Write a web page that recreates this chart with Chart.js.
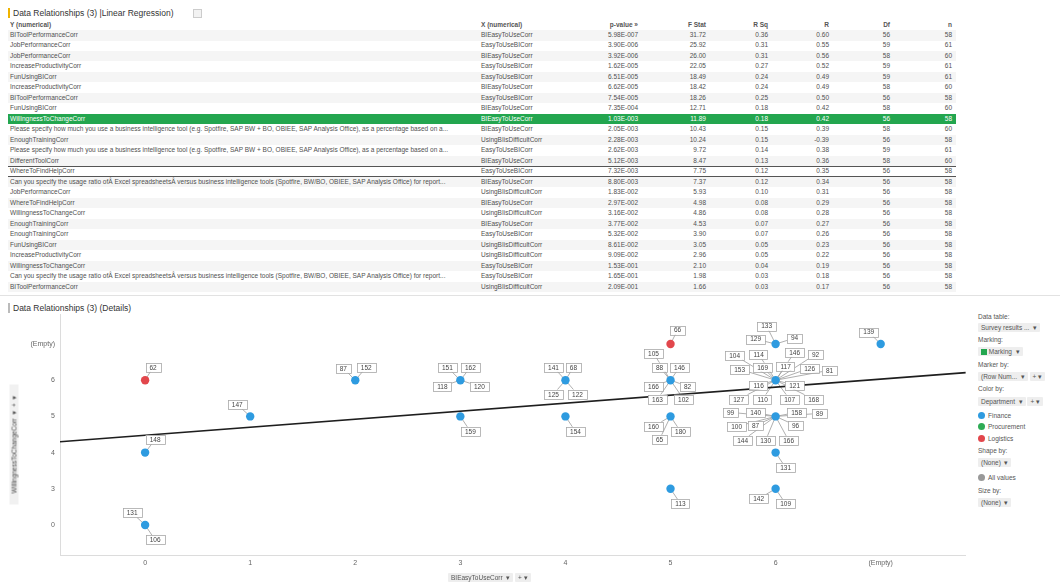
<!DOCTYPE html>
<html>
<head>
<meta charset="utf-8">
<script src="https://cdn.jsdelivr.net/npm/chart.js@4"></script>
<style>
  body { margin: 0; width: 1060px; height: 585px; overflow: hidden; background: #fff; font-family: "Liberation Sans", Arial, sans-serif; color: #444; position: relative; }
  .abs { position: absolute; white-space: nowrap; }
  .title { font-size: 8.5px; color: #333; }
  .bar { position: absolute; width: 2px; height: 10px; }
  #table { position: absolute; left: 0; top: 19px; width: 960px; height: 273px; overflow: hidden; }
  .row { position: absolute; left: 8px; width: 948px; height: 10.5px; font-size: 6.5px; line-height: 10.5px; box-sizing: border-box; color: #505050; }
  .row span { position: absolute; top: 0; }
  .hdr { font-weight: bold; color: #555; }
  .sel { background: #23a64f; color: #fff; }
  .framed { border-top: 1px solid #555; border-bottom: 1px solid #555; line-height: 8.5px; }
  .stripe { background: #f5f5f5; }
  #chartBox { position: absolute; left: 0; top: 298px; width: 970px; height: 287px; }
  .side { position: absolute; left: 978px; font-size: 6.5px; color: #555; white-space: nowrap; }
  .dd { background: #eeeeee; padding: 1px 3px; border-radius: 1px; }
  .dot { display: inline-block; width: 7px; height: 7px; border-radius: 50%; vertical-align: -1px; margin-right: 3px; }
</style>
</head>
<body>

<div class="bar" style="left:8px;top:8px;background:#f0b400"></div>
<div class="abs title" style="left:13px;top:8px">Data Relationships (3) |Linear Regression)</div>
<div class="abs" style="left:193px;top:9px;width:7px;height:7px;border:1px solid #ccc;background:#f2f2f2"></div>
<div id="table"></div>
<div class="abs" style="left:0;top:295px;width:1060px;height:1px;background:#e2e2e2"></div>

<div class="bar" style="left:8px;top:303px;background:#bbb"></div>
<div class="abs title" style="left:13px;top:303px">Data Relationships (3) (Details)</div>

<div id="chartBox"><canvas id="scatter"></canvas></div>

<div class="abs" style="left:-46px;top:440px;width:120px;height:9px;transform:rotate(-90deg);font-size:6.5px;line-height:9px;color:#444;background:#f1f1f1;text-align:center">WillingnessToChangeCorr &nbsp;▾ &nbsp;+ &nbsp;▾</div>
<div class="abs" style="left:448px;top:573px;font-size:6.5px;line-height:9px;color:#555"><span class="dd">BIEasyToUseCorr &nbsp;▾</span> <span class="dd">+ ▾</span></div>

<div class="side" style="top:313px">Data table:</div>
<div class="side" style="top:324px"><span class="dd">Survey results ... &nbsp;▾</span></div>
<div class="side" style="top:336px">Marking:</div>
<div class="side" style="top:348px"><span class="dd"><span style="display:inline-block;width:6px;height:6px;background:#23a64f;vertical-align:-1px"></span> Marking &nbsp;▾</span></div>
<div class="side" style="top:361px">Marker by:</div>
<div class="side" style="top:373px"><span class="dd">(Row Num... &nbsp;▾</span> <span class="dd">+ ▾</span></div>
<div class="side" style="top:385px">Color by:</div>
<div class="side" style="top:398px"><span class="dd">Department &nbsp;▾</span> <span class="dd">+ ▾</span></div>
<div class="side" style="top:412px"><span class="dot" style="background:#2e9be0"></span>Finance</div>
<div class="side" style="top:423px"><span class="dot" style="background:#2eab55"></span>Procurement</div>
<div class="side" style="top:435px"><span class="dot" style="background:#e2474c"></span>Logistics</div>
<div class="side" style="top:447px">Shape by:</div>
<div class="side" style="top:459px"><span class="dd">(None) &nbsp;▾</span></div>
<div class="side" style="top:474px"><span class="dot" style="background:#999"></span>All values</div>
<div class="side" style="top:487px">Size by:</div>
<div class="side" style="top:499px"><span class="dd">(None) &nbsp;▾</span></div>

<script>
// 回归结果表格
const yNames = ['BIToolPerformanceCorr', 'JobPerformanceCorr', 'JobPerformanceCorr', 'IncreaseProductivityCorr', 'FunUsingBICorr',
  'IncreaseProductivityCorr', 'BIToolPerformanceCorr', 'FunUsingBICorr', 'WillingnessToChangeCorr',
  'Please specify how much you use a business intelligence tool (e.g. Spotfire, SAP BW + BO, OBIEE, SAP Analysis Office), as a percentage based on a...',
  'EnoughTrainingCorr',
  'Please specify how much you use a business intelligence tool (e.g. Spotfire, SAP BW + BO, OBIEE, SAP Analysis Office), as a percentage based on a...',
  'DifferentToolCorr', 'WhereToFindHelpCorr',
  'Can you specify the usage ratio ofÂ Excel spreadsheetsÂ versus business intelligence tools (Spotfire, BW/BO, OBIEE, SAP Analysis Office) for report...',
  'JobPerformanceCorr', 'WhereToFindHelpCorr', 'WillingnessToChangeCorr', 'EnoughTrainingCorr', 'EnoughTrainingCorr',
  'FunUsingBICorr', 'IncreaseProductivityCorr', 'WillingnessToChangeCorr',
  'Can you specify the usage ratio ofÂ Excel spreadsheetsÂ versus business intelligence tools (Spotfire, BW/BO, OBIEE, SAP Analysis Office) for report...',
  'BIToolPerformanceCorr'];
const xNames = ['BIEasyToUseCorr', 'EasyToUseBICorr', 'BIEasyToUseCorr', 'EasyToUseBICorr', 'EasyToUseBICorr',
  'BIEasyToUseCorr', 'EasyToUseBICorr', 'BIEasyToUseCorr', 'BIEasyToUseCorr', 'BIEasyToUseCorr',
  'UsingBIisDifficultCorr', 'EasyToUseBICorr', 'BIEasyToUseCorr', 'EasyToUseBICorr', 'BIEasyToUseCorr',
  'UsingBIisDifficultCorr', 'BIEasyToUseCorr', 'UsingBIisDifficultCorr', 'BIEasyToUseCorr', 'EasyToUseBICorr',
  'UsingBIisDifficultCorr', 'UsingBIisDifficultCorr', 'EasyToUseBICorr', 'EasyToUseBICorr', 'UsingBIisDifficultCorr'];
const pValues = ['5.98E-007', '3.90E-006', '3.92E-006', '1.62E-005', '6.51E-005', '6.62E-005', '7.54E-005', '7.35E-004',
  '1.03E-003', '2.05E-003', '2.28E-003', '2.62E-003', '5.12E-003', '7.32E-003', '8.80E-003', '1.83E-002', '2.97E-002',
  '3.16E-002', '3.77E-002', '5.32E-002', '8.61E-002', '9.09E-002', '1.53E-001', '1.65E-001', '2.09E-001'];
const fStats = ['31.72', '25.92', '26.00', '22.05', '18.49', '18.42', '18.26', '12.71', '11.89', '10.43', '10.24', '9.72',
  '8.47', '7.75', '7.37', '5.93', '4.98', '4.86', '4.53', '3.90', '3.05', '2.96', '2.10', '1.98', '1.66'];
const rSqs = ['0.36', '0.31', '0.31', '0.27', '0.24', '0.24', '0.25', '0.18', '0.18', '0.15', '0.15', '0.14', '0.13', '0.12',
  '0.12', '0.10', '0.08', '0.08', '0.07', '0.07', '0.05', '0.05', '0.04', '0.03', '0.03'];
const rValues = ['0.60', '0.55', '0.56', '0.52', '0.49', '0.49', '0.50', '0.42', '0.42', '0.39', '-0.39', '0.38', '0.36',
  '0.35', '0.34', '0.31', '0.29', '0.28', '0.27', '0.26', '0.23', '0.22', '0.19', '0.18', '0.17'];
const dfs = ['56', '59', '58', '59', '59', '58', '56', '58', '56', '58', '56', '59', '58', '56', '56', '56', '56', '56', '56',
  '56', '56', '56', '56', '56', '56'];
const ns = ['58', '61', '60', '61', '61', '60', '58', '60', '58', '60', '58', '61', '60', '58', '58', '58', '58', '58', '58',
  '58', '58', '58', '58', '58', '58'];
const selectedRow = 8;
const framedRow = 13;

// 散点图数据 (类别轴)
const xCategories = ['0', '1', '2', '3', '4', '5', '6', '(Empty)'];
const yCategories = ['0', '3', '4', '5', '6', '(Empty)'];

const financeX = ['0', '0', '1', '2', '3', '3', '4', '4', '5', '5', '5', '6', '6', '6', '6', '6', '(Empty)'];
const financeY = ['4', '0', '5', '6', '6', '5', '6', '5', '6', '5', '3', '(Empty)', '6', '5', '4', '3', '(Empty)'];
const financeRows = [
  ['148'], ['131', '106'], ['147'], ['87', '152'], ['151', '162', '118', '120'], ['159'],
  ['141', '68', '125', '122'], ['154'], ['105', '88', '146', '166', '82', '163', '102'], ['160', '180', '65'], ['113'],
  ['133', '129', '94'],
  ['104', '114', '146', '92', '153', '169', '117', '126', '81', '116', '121', '127', '110', '107', '168'],
  ['99', '140', '158', '89', '100', '87', '96', '144', '130', '166'],
  ['131'], ['142', '109'], ['139']];

const logisticsX = ['0', '5'];
const logisticsY = ['6', '(Empty)'];
const logisticsRows = [['62'], ['66']];

const procurementX = [];
const procurementY = [];

// 回归线两端 (类别索引坐标)
const regressionX = [-0.81, 7.81];
const regressionY = [2.30, 4.21];

// 标签相对点的像素偏移 (仅布局)
const financeLabelOffsets = [
  [[10, -13]], [[-13, -12], [10, 15]], [[-13, -12]], [[-12, -12], [11, -13]],
  [[-13, -13], [10, -13], [-18, 6], [19, 6]], [[10, 15]],
  [[-12, -13], [8, -13], [-12, 14], [12, 14]], [[10, 15]],
  [[-17, -27], [-11, -13], [9, -13], [-17, 6], [17, 6], [-13, 19], [13, 19]],
  [[-17, 10], [10, 15], [-11, 23]], [[10, 15]],
  [[-9, -18], [-20, -5], [19, -6]],
  [[-41, -25], [-17, -26], [19, -28], [40, -26], [-36, -11], [-13, -13], [10, -14], [34, -12], [54, -10],
   [-17, 5], [19, 5], [-37, 19], [-13, 19], [14, 19], [38, 19]],
  [[-45, -4], [-20, -4], [21, -4], [44, -3], [-39, 10], [-20, 9], [20, 9], [-33, 24], [-10, 24], [13, 24]],
  [[10, 15]], [[-17, 10], [10, 15]], [[-12, -12]]];
const logisticsLabelOffsets = [[[8, -13]], [[7, -14]]];

// 构建表格
function buildTable() {
  const box = document.getElementById('table');
  const rightCols = [638, 706, 768, 829, 890, 952];
  const headers = ['p-value »', 'F Stat', 'R Sq', 'R', 'Df', 'n'];
  const mkRow = (top, cls, cells) => {
    const row = document.createElement('div');
    row.className = 'row ' + cls;
    row.style.top = top + 'px';
    let html = `<span style="left:2px">${cells[0]}</span><span style="left:473px">${cells[1]}</span>`;
    rightCols.forEach((r, k) => {
      html += `<span style="right:${956 - r}px">${cells[k + 2]}</span>`;
    });
    row.innerHTML = html;
    box.appendChild(row);
  };
  mkRow(0.5, 'hdr', ['Y (numerical)', 'X (numerical)'].concat(headers));
  yNames.forEach((name, i) => {
    let cls = i % 2 === 0 ? 'stripe' : '';
    if (i === selectedRow) cls = 'sel';
    if (i === framedRow) cls = 'framed';
    mkRow(11 + i * 10.48, cls, [name, xNames[i], pValues[i], fStats[i], rSqs[i], rValues[i], dfs[i], ns[i]]);
  });
}
buildTable();

function toPoints(xs, ys) {
  return xs.map((c, i) => ({ x: xCategories.indexOf(c), y: yCategories.indexOf(ys[i]) }));
}

// 标签框和引线
function labelBoxes(chart, draw) {
  const ctx = chart.ctx;
  const xs = chart.scales.x, ys = chart.scales.y;
  const groups = [
    [financeX, financeY, financeRows, financeLabelOffsets],
    [logisticsX, logisticsY, logisticsRows, logisticsLabelOffsets]
  ];
  ctx.save();
  ctx.font = '6.5px "Liberation Sans", Arial';
  ctx.textAlign = 'center';
  ctx.textBaseline = 'middle';
  groups.forEach(([gx, gy, rows, offs]) => {
    gx.forEach((c, i) => {
      const px = xs.getPixelForValue(xCategories.indexOf(c));
      const py = ys.getPixelForValue(yCategories.indexOf(gy[i]));
      rows[i].forEach((txt, j) => {
        const [dx, dy] = offs[i][j];
        const cx = px + dx, cy = py + dy;
        const w = ctx.measureText(txt).width + 8, h = 9;
        if (draw === 'lines') {
          const vx = px - cx, vy = py - cy;
          const s = Math.min(vx ? (w / 2) / Math.abs(vx) : Infinity, vy ? (h / 2) / Math.abs(vy) : Infinity);
          if (s >= 1) return;
          ctx.strokeStyle = '#9a9a9a';
          ctx.lineWidth = 0.8;
          ctx.beginPath();
          ctx.moveTo(px, py);
          ctx.lineTo(cx + vx * s, cy + vy * s);
          ctx.stroke();
        } else {
          ctx.fillStyle = '#fff';
          ctx.fillRect(cx - w / 2, cy - h / 2, w, h);
          ctx.strokeStyle = '#a8a8a8';
          ctx.lineWidth = 0.8;
          ctx.strokeRect(Math.round(cx - w / 2) + 0.5, Math.round(cy - h / 2) + 0.5, Math.round(w), h);
          ctx.fillStyle = '#444';
          ctx.fillText(txt, cx, cy + 0.5);
        }
      });
    });
  });
  ctx.restore();
}

const rowLabelPlugin = {
  id: 'rowLabels',
  beforeDatasetsDraw(chart) { labelBoxes(chart, 'lines'); },
  afterDatasetsDraw(chart) { labelBoxes(chart, 'boxes'); }
};

const tickFont = { family: '"Liberation Sans", Arial', size: 7 };

new Chart(document.getElementById('scatter'), {
  type: 'scatter',
  data: {
    datasets: [
      {
        type: 'line',
        label: 'Linear regression',
        data: regressionX.map((x, i) => ({ x, y: regressionY[i] })),
        borderColor: '#1e1e1e',
        borderWidth: 1.7,
        pointRadius: 0,
        order: 3
      },
      {
        label: 'Finance',
        data: toPoints(financeX, financeY),
        backgroundColor: '#2e9be0',
        borderWidth: 0,
        pointRadius: 4.2,
        order: 1
      },
      {
        label: 'Procurement',
        data: toPoints(procurementX, procurementY),
        backgroundColor: '#2eab55',
        borderWidth: 0,
        pointRadius: 4.2,
        order: 1
      },
      {
        label: 'Logistics',
        data: toPoints(logisticsX, logisticsY),
        backgroundColor: '#e2474c',
        borderWidth: 0,
        pointRadius: 4.2,
        order: 1
      }
    ]
  },
  options: {
    responsive: true,
    maintainAspectRatio: false,
    animation: false,
    devicePixelRatio: 1,
    layout: { padding: { top: 16, right: 3, left: 0, bottom: 0 } },
    plugins: {
      legend: { display: false },
      tooltip: { enabled: false }
    },
    scales: {
      x: {
        type: 'linear',
        min: -0.81,
        max: 7.81,
        afterBuildTicks: s => { s.ticks = xCategories.map((_, i) => ({ value: i })); },
        afterFit: s => { s.height = 30; },
        grid: { display: false, drawTicks: false },
        border: { display: true, color: '#dcdcdc', width: 1 },
        ticks: {
          padding: 4,
          maxRotation: 0,
          autoSkip: false,
          color: '#666',
          font: tickFont,
          callback: v => xCategories[v] ?? ''
        }
      },
      y: {
        type: 'linear',
        min: -0.83,
        max: 5.83,
        afterBuildTicks: s => { s.ticks = yCategories.map((_, i) => ({ value: i })); },
        afterFit: s => { s.width = 60; },
        grid: { display: false, drawTicks: false },
        border: { display: true, color: '#dcdcdc', width: 1 },
        ticks: {
          padding: 5,
          autoSkip: false,
          color: '#666',
          font: tickFont,
          callback: v => yCategories[v] ?? ''
        }
      }
    }
  },
  plugins: [rowLabelPlugin]
});
</script>
</body>
</html>
